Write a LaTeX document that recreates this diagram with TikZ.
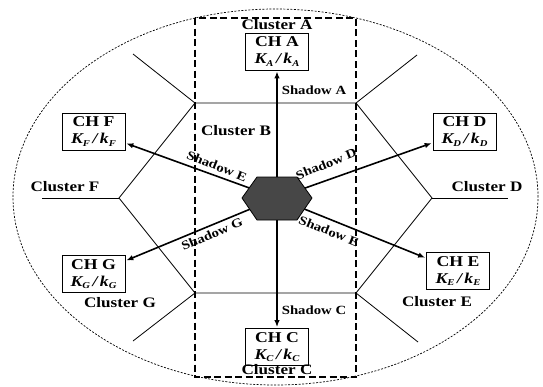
\documentclass[tikz,border=0pt]{standalone}
\usepackage{fontspec}
\setmainfont{Liberation Serif}[FakeStretch=1.18]
\usetikzlibrary{arrows.meta}
\newcommand{\KK}[1]{\textit{K\raisebox{-0.4ex}{\fontsize{9}{9}\selectfont #1}\,/\,k\raisebox{-0.4ex}{\fontsize{9}{9}\selectfont #1}}}
\begin{document}
\begin{tikzpicture}[x=1pt,y=-1pt,
  chbox/.style={draw, line width=0.8pt, fill=white, minimum width=63pt, minimum height=37pt,
    inner sep=1pt, align=center, font=\fontsize{15}{17}\selectfont\bfseries},
  cluster/.style={font=\fontsize{14.5}{16}\selectfont\bfseries, inner sep=0pt},
  shadow/.style={font=\fontsize{12.5}{14}\selectfont\bfseries, inner sep=0pt},
  grid/.style={line width=0.8pt},
  arr/.style={line width=1.6pt, -{Latex[length=7pt,width=5.5pt]}, shorten >=1pt}]
\useasboundingbox (0,0) rectangle (543,386);
% outer ellipse
\draw[line width=0.7pt, dash pattern=on 2pt off 1.5pt] (275.5,197) ellipse [x radius=262.5pt, y radius=188pt];
% dashed rectangle
\draw[line width=1.3pt, dash pattern=on 7pt off 3.5pt] (195,18) rectangle (356,377);
% hexagon grid
\coordinate (v1) at (195,103); \coordinate (v2) at (356,103);
\coordinate (v3) at (432,198); \coordinate (v4) at (356,293);
\coordinate (v5) at (195,293); \coordinate (v6) at (119,198);
\coordinate (s1) at (133,54);  \coordinate (s2) at (417,55);
\coordinate (s3) at (508,198); \coordinate (s4) at (418,342);
\coordinate (s5) at (133,341); \coordinate (s6) at (42,198);
\draw[grid] (v1) -- (v2) -- (v3) -- (v4) -- (v5) -- (v6) -- cycle;
\foreach \i in {1,...,6} \draw[grid] (v\i) -- (s\i);
% boxes
\node[chbox] (cha) at (277,51.5) {CH A\\ \KK{A}};
\node[chbox] (chf) at (93.5,131.5) {CH F\\ \KK{F}};
\node[chbox] (chd) at (464.5,131.5) {CH D\\ \KK{D}};
\node[chbox] (chg) at (93.5,274) {CH G\\ \KK{G}};
\node[chbox] (che) at (458,271) {CH E\\ \KK{E}};
\node[chbox] (chc) at (277,347) {CH C\\ \KK{C}};
% arrows
\coordinate (hc) at (277,198);
\draw[arr] (hc) -- (cha);
\draw[arr] (hc) -- (chc);
\draw[arr] (hc) -- (chd);
\draw[arr] (hc) -- (chf);
\draw[arr] (hc) -- (chg);
\draw[arr] (hc) -- (che);
% central hexagon
\draw[line width=0.8pt, fill=black!72] (242,198) -- (257,177) -- (297,177) -- (312,198) -- (297,220) -- (257,220) -- cycle;
% cluster labels
\node[cluster] (la) at (277,25) {Cluster A};
\node[cluster] (lb) at (236,131) {Cluster B};
\node[cluster] (lc) at (277,370) {Cluster C};
\node[cluster] (ld) at (487,187) {Cluster D};
\node[cluster] (le) at (437,302) {Cluster E};
\node[cluster] (lf) at (65,187) {Cluster F};
\node[cluster] (lg) at (120,303) {Cluster G};
% shadow labels
\node[shadow] (sa) at (314,90) {Shadow A};
\node[shadow] (sc) at (314,310) {Shadow C};
\node[shadow, rotate=22] (sd) at (326,164) {Shadow D};
\node[shadow, rotate=-22] (sf) at (217,166) {Shadow E};
\node[shadow, rotate=23] (sg) at (212,234) {Shadow G};
\node[shadow, rotate=-22] (se) at (329,231) {Shadow E};
\end{tikzpicture}
\end{document}
